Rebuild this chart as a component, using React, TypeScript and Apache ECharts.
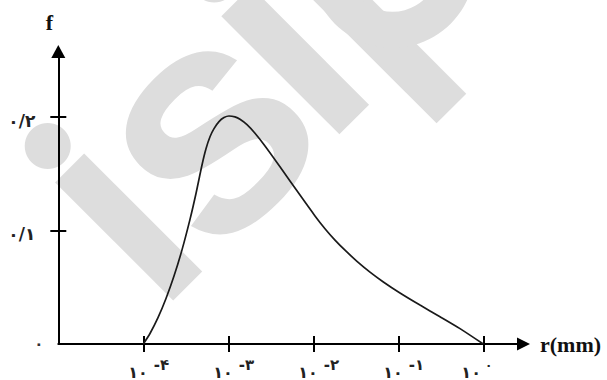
import React, { useEffect, useRef } from 'react';
import * as echarts from 'echarts';

// r in mm is plotted by its decade exponent (log10 r)
const log10R = [-4, -3.9212, -3.8271, -3.7329, -3.6388, -3.5447, -3.4506, -3.38, -3.3094, -3.2624, -3.2153, -3.1682, -3.1094, -3.0506, -2.9918, -2.9212, -2.8624, -2.78, -2.6859, -2.5682, -2.3918, -2.1565, -1.98, -1.8624, -1.7447, -1.6271, -1.4859, -1.3329, -1.18, -0.98, -0.7447, -0.5094, -0.2741, 0];
const fValues = [0, 0.00925, 0.02317, 0.04009, 0.05982, 0.08291, 0.10978, 0.1326, 0.15771, 0.17198, 0.18256, 0.18978, 0.19595, 0.19947, 0.20088, 0.20009, 0.19806, 0.1933, 0.18573, 0.17454, 0.15621, 0.13119, 0.11286, 0.10159, 0.09154, 0.08264, 0.07286, 0.06335, 0.05489, 0.04493, 0.03427, 0.02405, 0.01357, 0];

const xTickExponents = [-4, -3, -2, -1, 0];
const xTickBase = '۱۰';
const xTickSup = ['-۴', '-۳', '-۲', '-۱', '۰'];
const yTickValues = [0.1, 0.2];
const yLabelValues = [0, 0.1, 0.2];
const yLabelTexts = ['۰', '۰/۱', '۰/۲'];
const xRange = [-5, 0.473];
const yRange = [0, 0.2577];

const WM = '#dddddd';
const FA = '"DejaVu Sans", "Noto Sans", sans-serif';
const SERIF = '"Liberation Serif", "DejaVu Serif", serif';

export default function App() {
  const ref = useRef<HTMLDivElement>(null);
  useEffect(() => {
    if (!ref.current) return;
    const chart = echarts.init(ref.current, undefined, { renderer: 'svg' });
    const wmz = -10;
    const option: any = {
      animation: false,
      backgroundColor: '#ffffff',
      grid: { left: 58.3, right: 83.5, top: 51.5, bottom: 36, containLabel: false, outerBoundsMode: 'none' },
      graphic: [
        {
          type: 'group', x: 0, y: 0, rotation: Math.PI / 4, z: wmz, silent: true,
          children: [
            { type: 'circle', z: wmz, shape: { cx: -69.5, cy: 137, r: 23 }, style: { fill: WM } },
            { type: 'rect', z: wmz, shape: { x: -90, y: 168, width: 41, height: 167 }, style: { fill: WM } },
            {
              type: 'text', z: wmz, x: 53, y: 226,
              style: { text: 's', font: 'bold 320px "Liberation Sans", Arial, sans-serif', fill: WM, align: 'center', verticalAlign: 'middle', textAlign: 'center', textVerticalAlign: 'middle' },
            },
            { type: 'circle', z: wmz, shape: { cx: 166, cy: 137, r: 23 }, style: { fill: WM } },
            { type: 'rect', z: wmz, shape: { x: 145, y: 168, width: 42, height: 167 }, style: { fill: WM } },
            { type: 'rect', z: wmz, shape: { x: 221.5, y: 168, width: 42, height: 228 }, style: { fill: WM } },
            { type: 'ring', z: wmz, shape: { cx: 302, cy: 253.5, r: 82, r0: 46 }, style: { fill: WM } },
          ],
        },
      ],
      xAxis: [
        {
          type: 'value', min: xRange[0], max: xRange[1], position: 'bottom',
          name: 'r(mm)', nameLocation: 'end', nameGap: 16.5, nameMoveOverlap: false,
          nameTextStyle: { fontFamily: SERIF, fontWeight: 'bold', fontSize: 22, color: '#111', align: 'left', verticalAlign: 'middle', padding: [3, 0, 0, 0] },
          axisLine: { show: true, onZero: false, symbol: ['none', 'triangle'], symbolSize: [13, 13], lineStyle: { color: '#000', width: 2 } },
          axisTick: { show: true, inside: false, length: 8, customValues: xTickExponents, lineStyle: { color: '#000', width: 2 } },
          axisLabel: {
            show: true, customValues: xTickExponents, margin: 10, padding: [0, 0, 0, 11],
            formatter: (v: number) => {
              const i = xTickExponents.findIndex((e) => Math.abs(e - v) < 1e-9);
              if (i < 0) return '';
              return i === xTickExponents.length - 1
                ? `{b|${xTickBase}}{s0|${xTickSup[i]}}`
                : `{b|${xTickBase}}{s|${xTickSup[i]}}`;
            },
            rich: {
              b: { fontFamily: FA, fontWeight: 'bold', fontSize: 16, color: '#222', padding: [10, 0, 0, 0] },
              s: { fontFamily: FA, fontWeight: 'bold', fontSize: 15, color: '#222', padding: [0, 0, 4, 6] },
              s0: { fontFamily: FA, fontWeight: 'bold', fontSize: 12, color: '#222', padding: [0, 24, 4, 4] },
            },
          },
          splitLine: { show: false },
        },
        {
          type: 'value', min: xRange[0], max: xRange[1], position: 'bottom',
          axisLine: { show: false, onZero: false },
          axisTick: { show: true, inside: true, length: 8, customValues: xTickExponents, lineStyle: { color: '#000', width: 2 } },
          axisLabel: { show: false },
          splitLine: { show: false },
        },
      ],
      yAxis: [
        {
          type: 'value', min: yRange[0], max: yRange[1], position: 'left',
          name: 'f', nameLocation: 'end', nameGap: 18.5, nameMoveOverlap: false,
          nameTextStyle: { fontFamily: SERIF, fontWeight: 'bold', fontSize: 22, color: '#111', align: 'center', verticalAlign: 'bottom', padding: [0, 18, 0, 0] },
          axisLine: { show: true, onZero: false, symbol: ['none', 'triangle'], symbolSize: [14, 13], lineStyle: { color: '#000', width: 2 } },
          axisTick: { show: true, inside: false, length: 8, customValues: yTickValues, lineStyle: { color: '#000', width: 2 } },
          axisLabel: {
            show: true, customValues: yLabelValues, margin: 15,
            formatter: (v: number) => {
              const i = yLabelValues.findIndex((e) => Math.abs(e - v) < 1e-9);
              if (i < 0) return '';
              return i === 0 ? `{z|${yLabelTexts[i]}}` : `{n|${yLabelTexts[i]}}`;
            },
            rich: {
              z: { fontFamily: FA, fontWeight: 'bold', fontSize: 15, color: '#333' },
              n: { fontFamily: FA, fontWeight: 'bold', fontSize: 17, color: '#222', padding: [8, 8, 0, 0] },
            },
          },
          splitLine: { show: false },
        },
        {
          type: 'value', min: yRange[0], max: yRange[1], position: 'left',
          axisLine: { show: false, onZero: false },
          axisTick: { show: true, inside: true, length: 8, customValues: yTickValues, lineStyle: { color: '#000', width: 2 } },
          axisLabel: { show: false },
          splitLine: { show: false },
        },
      ],
      series: [
        {
          type: 'line', xAxisIndex: 0, yAxisIndex: 0,
          data: log10R.map((e, i) => [e, fValues[i]]),
          smooth: 0.25, showSymbol: false, symbol: 'none',
          lineStyle: { color: '#1a1a1a', width: 1.7 },
          z: 3,
        },
      ],
    };
    chart.setOption(option);
    return () => chart.dispose();
  }, []);
  return <div ref={ref} style={{ position: 'absolute', left: 0, top: 0, width: 607, height: 380 }} />;
}
